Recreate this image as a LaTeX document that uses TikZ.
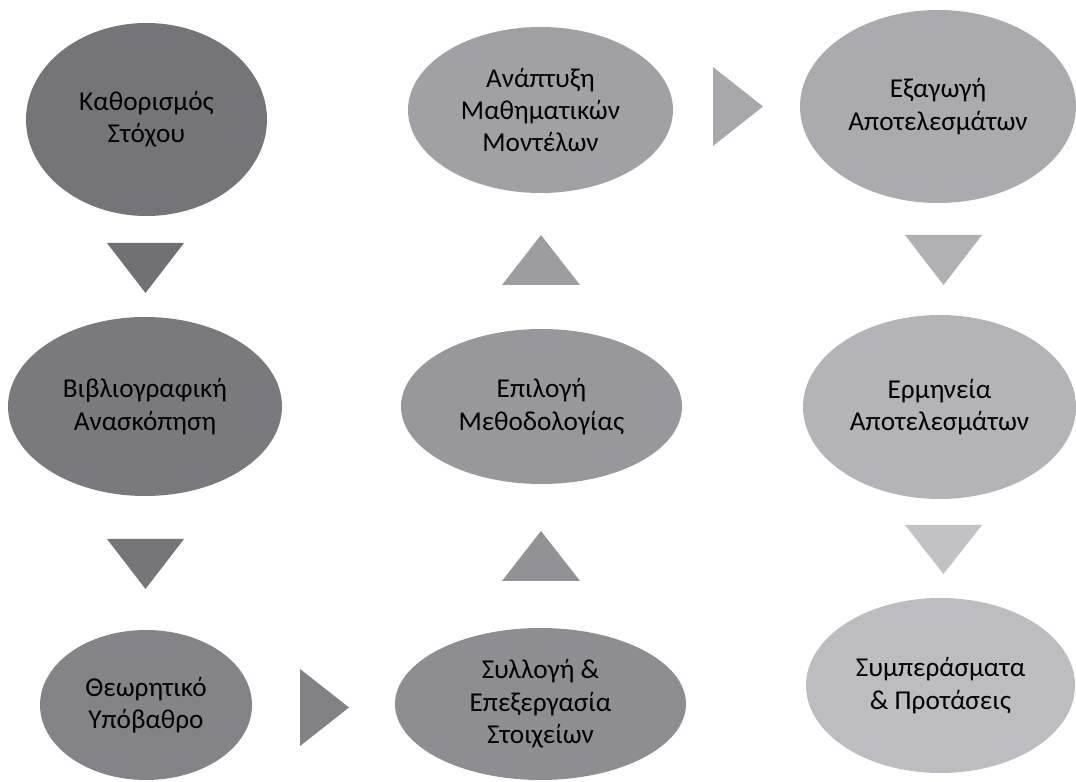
\documentclass[tikz,border=0pt]{standalone}
\usepackage{fontspec}
\setmainfont{Carlito}
\usepackage{tikz,graphics}
\usetikzlibrary{shapes.geometric}

\definecolor{ca}{HTML}{757479}
\definecolor{cb}{HTML}{7A797E}
\definecolor{cc}{HTML}{848388}
\definecolor{cd}{HTML}{8E8D92}
\definecolor{ce}{HTML}{98979C}
\definecolor{cf}{HTML}{A1A0A5}
\definecolor{cg}{HTML}{ABAAAE}
\definecolor{ch}{HTML}{B4B3B7}
\definecolor{ci}{HTML}{BDBCC0}

\begin{document}
\begin{tikzpicture}[stage/.style={ellipse, inner sep=0pt, outer sep=0pt, align=center,
    text=black, font=\fontsize{15.5pt}{18.4pt}\selectfont}]

    \useasboundingbox (0,0) rectangle (21.52,15.64);

    \node[stage, fill=ca, minimum width=4.82cm, minimum height=3.86cm] (a) at (2.93, 13.25) {Καθορισμός\\Στόχου};
    \node[stage, fill=cb, minimum width=5.48cm, minimum height=3.58cm] (b) at (2.90, 7.51) {Βιβλιογραφική\\Ανασκόπηση};
    \node[stage, fill=cc, minimum width=4.24cm, minimum height=3.00cm] (c) at (2.92, 1.54) {Θεωρητικό\\Υπόβαθρο};
    \node[stage, fill=cd, minimum width=5.82cm, minimum height=3.04cm] (d) at (10.81, 1.56) {Συλλογή \&\\Επεξεργασία\\Στοιχείων};
    \node[stage, fill=ce, minimum width=5.62cm, minimum height=3.10cm] (e) at (10.83, 7.51) {Επιλογή\\Μεθοδολογίας};
    \node[stage, fill=cf, minimum width=5.30cm, minimum height=3.32cm] (f) at (10.81, 13.44) {Ανάπτυξη\\Μαθηματικών\\Μοντέλων};
    \node[stage, fill=cg, minimum width=5.52cm, minimum height=3.86cm] (g) at (18.76, 13.51) {Εξαγωγή\\Αποτελεσμάτων};
    \node[stage, fill=ch, minimum width=5.46cm, minimum height=3.68cm] (h) at (18.79, 7.50) {Ερμηνεία\\Αποτελεσμάτων};
    \node[stage, fill=ci, minimum width=5.38cm, minimum height=3.50cm] (i) at (18.81, 1.93) {Συμπεράσματα\\\& Προτάσεις};

    \fill[fill={rgb,255:red,113;green,112;blue,117}] (2.14,10.78) -- (3.68,10.78) -- (2.91,9.78) -- cycle;
    \fill[fill={rgb,255:red,118;green,117;blue,122}] (2.14,4.86) -- (3.68,4.86) -- (2.91,3.86) -- cycle;
    \fill[fill={rgb,255:red,130;green,129;blue,134}] (6.00,2.26) -- (6.00,0.72) -- (6.98,1.49) -- cycle;
    \fill[fill={rgb,255:red,146;green,145;blue,150}] (10.04,4.02) -- (11.60,4.02) -- (10.82,5.02) -- cycle;
    \fill[fill={rgb,255:red,157;green,156;blue,161}] (10.04,9.94) -- (11.60,9.94) -- (10.82,10.94) -- cycle;
    \fill[fill={rgb,255:red,168;green,167;blue,172}] (14.26,14.30) -- (14.26,12.72) -- (15.26,13.51) -- cycle;
    \fill[fill={rgb,255:red,177;green,176;blue,180}] (18.10,10.94) -- (19.64,10.94) -- (18.87,9.94) -- cycle;
    \fill[fill={rgb,255:red,194;green,193;blue,197}] (18.10,5.14) -- (19.64,5.14) -- (18.87,4.16) -- cycle;

\end{tikzpicture}
\end{document}
